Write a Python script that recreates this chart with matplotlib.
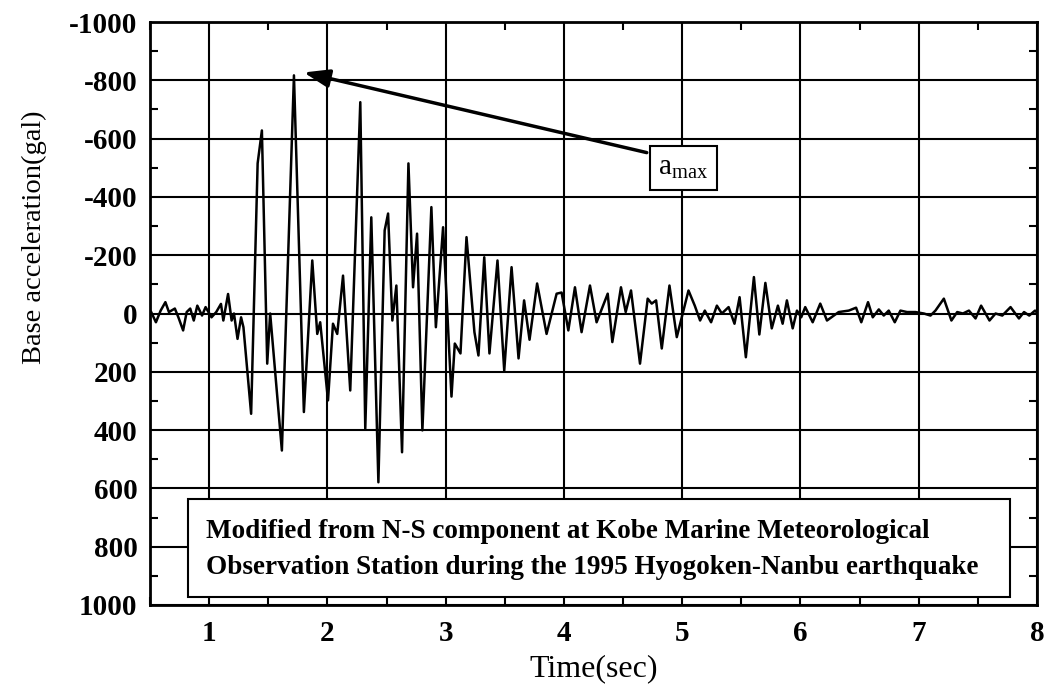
"""Base acceleration record (modified Kobe N-S component)."""
import matplotlib
matplotlib.use("Agg")
import matplotlib.pyplot as plt
from matplotlib.patches import Rectangle
from matplotlib.ticker import MultipleLocator

# peak / trough sequence: time (s), acceleration (gal)
time_s = [
    0.51, 0.55, 0.59, 0.63, 0.66, 0.71, 0.74, 0.78, 0.81, 0.84, 0.87, 0.90,
    0.94, 0.97, 1.02, 1.06, 1.10, 1.12, 1.14, 1.16, 1.19, 1.21, 1.24, 1.27,
    1.29, 1.355, 1.41, 1.446, 1.491, 1.516, 1.615, 1.717, 1.801, 1.872,
    1.914, 1.939, 2.005, 2.047, 2.083, 2.132, 2.193, 2.278, 2.320, 2.371,
    2.431, 2.484, 2.513, 2.549, 2.583, 2.631, 2.685, 2.724, 2.758, 2.803,
    2.879, 2.917, 2.978, 3.049, 3.077, 3.125, 3.176, 3.243, 3.277, 3.326,
    3.370, 3.438, 3.495, 3.557, 3.616, 3.663, 3.709, 3.773, 3.853, 3.938,
    3.980, 4.037, 4.093, 4.149, 4.220, 4.276, 4.370, 4.409, 4.482, 4.522,
    4.567, 4.643, 4.708, 4.742, 4.779, 4.827, 4.892, 4.954, 5.053, 5.106,
    5.151, 5.191, 5.244, 5.293, 5.335, 5.392, 5.442, 5.485, 5.538, 5.606,
    5.652, 5.703, 5.757, 5.809, 5.849, 5.885, 5.934, 5.970, 6.006, 6.040,
    6.103, 6.167, 6.224, 6.323, 6.408, 6.470, 6.514, 6.571, 6.611, 6.662,
    6.704, 6.746, 6.797, 6.845, 6.901, 6.972, 7.043, 7.099, 7.141, 7.212,
    7.276, 7.325, 7.373, 7.424, 7.480, 7.527, 7.598, 7.649, 7.706, 7.776,
    7.847, 7.890, 7.934, 7.983, 8.0,
]
accel_gal = [
    -5, 30, -10, -39, -5, -17, 13, 58, -5, -17, 24, -27,
    7, -22, 13, -5, -33, 24, -22, -67, 24, 0, 87, 13,
    47, 344, -515, -628, 172, 0, 470, -817, 338, -182,
    70, 30, 298, 35, 70, -130, 264, -725, 395, -330,
    579, -285, -343, 24, -96, 476, -515, -90, -274, 401,
    -365, 47, -296, 285, 103, 137, -262, 64, 144, -193,
    137, -182, 196, -159, 154, -45, 90, -103, 70, -68,
    -72, 58, -90, 64, -96, 30, -68, 98, -90, -5,
    -79, 172, -51, -34, -45, 120, -96, 81, -79, -27,
    24, -10, 30, -27, 0, -22, 35, -56, 150, -125,
    72, -105, 51, -27, 35, -45, 51, -10, 13, -22,
    30, -34, 24, -5, -10, -20, 30, -39, 13, -14,
    7, -10, 30, -10, -5, -5, 0, 7, -10, -51,
    24, -5, 0, -10, 17, -27, 24, 0, 7, -22,
    17, -5, 7, -10, -3,
]

x_ticks = [1, 2, 3, 4, 5, 6, 7, 8]
y_ticks = [-1000, -800, -600, -400, -200, 0, 200, 400, 600, 800, 1000]

peak_time, peak_accel = 1.80, -827   # arrow tip
label_time, label_accel = 4.70, -552  # arrow tail at the a_max box

note = ("Modified from N-S component at Kobe Marine Meteorological\n"
        "Observation Station during the 1995 Hyogoken-Nanbu earthquake")

plt.rcParams["font.family"] = ["Liberation Serif", "DejaVu Serif"]
plt.rcParams["axes.unicode_minus"] = False

fig = plt.figure(figsize=(10.49, 6.97), dpi=100)
ax = fig.add_axes([0.143, 0.132, 0.8456, 0.8364])

ax.plot(time_s, accel_gal, color="black", lw=1.8, zorder=3)

ax.set_xlim(0.5, 8)
ax.set_ylim(1000, -1000)
ax.set_xticks(x_ticks)
ax.set_yticks(y_ticks)
ax.xaxis.set_minor_locator(MultipleLocator(0.5))
ax.yaxis.set_minor_locator(MultipleLocator(100))
ax.tick_params(which="both", direction="in", top=True, right=True,
               width=1.5, colors="black")
ax.tick_params(which="major", length=0, labelsize=21)
ax.tick_params(axis="x", which="major", pad=11)
ax.tick_params(axis="y", which="major", pad=9)
ax.tick_params(which="minor", length=6)
for lab in ax.get_xticklabels() + ax.get_yticklabels():
    lab.set_fontweight("bold")
ax.grid(True, which="major", color="black", lw=1.5)
for sp in ax.spines.values():
    sp.set_linewidth(2)

ax.set_xlabel("Time(sec)", fontsize=23)
ax.xaxis.set_label_coords(0.5, -0.085)
ax.set_ylabel("Base acceleration(gal)", fontsize=20.5)
ax.yaxis.set_label_coords(-0.116, 0.63)

# a_max callout
ax.annotate("", xy=(peak_time, peak_accel), xytext=(label_time, label_accel),
            arrowprops=dict(arrowstyle="-|>,head_length=0.7,head_width=0.25",
                            color="black", lw=2.5, mutation_scale=22,
                            shrinkA=0, shrinkB=0),
            zorder=5)
ax.text(5.01, -500, r"$\mathregular{a_{max}}$", fontsize=21, ha="center",
        va="center", zorder=6,
        bbox=dict(boxstyle="square,pad=0.3", fc="white", ec="black", lw=1.5))

# source note box
ax.add_patch(Rectangle((0.82, 635), 6.95, 339, fc="white", ec="black",
                       lw=1.5, zorder=6))
ax.text(0.975, 810, note, fontsize=19.5, fontweight="bold", ha="left",
        va="center", linespacing=1.6, zorder=7)

fig.savefig("out.png", dpi=100)
